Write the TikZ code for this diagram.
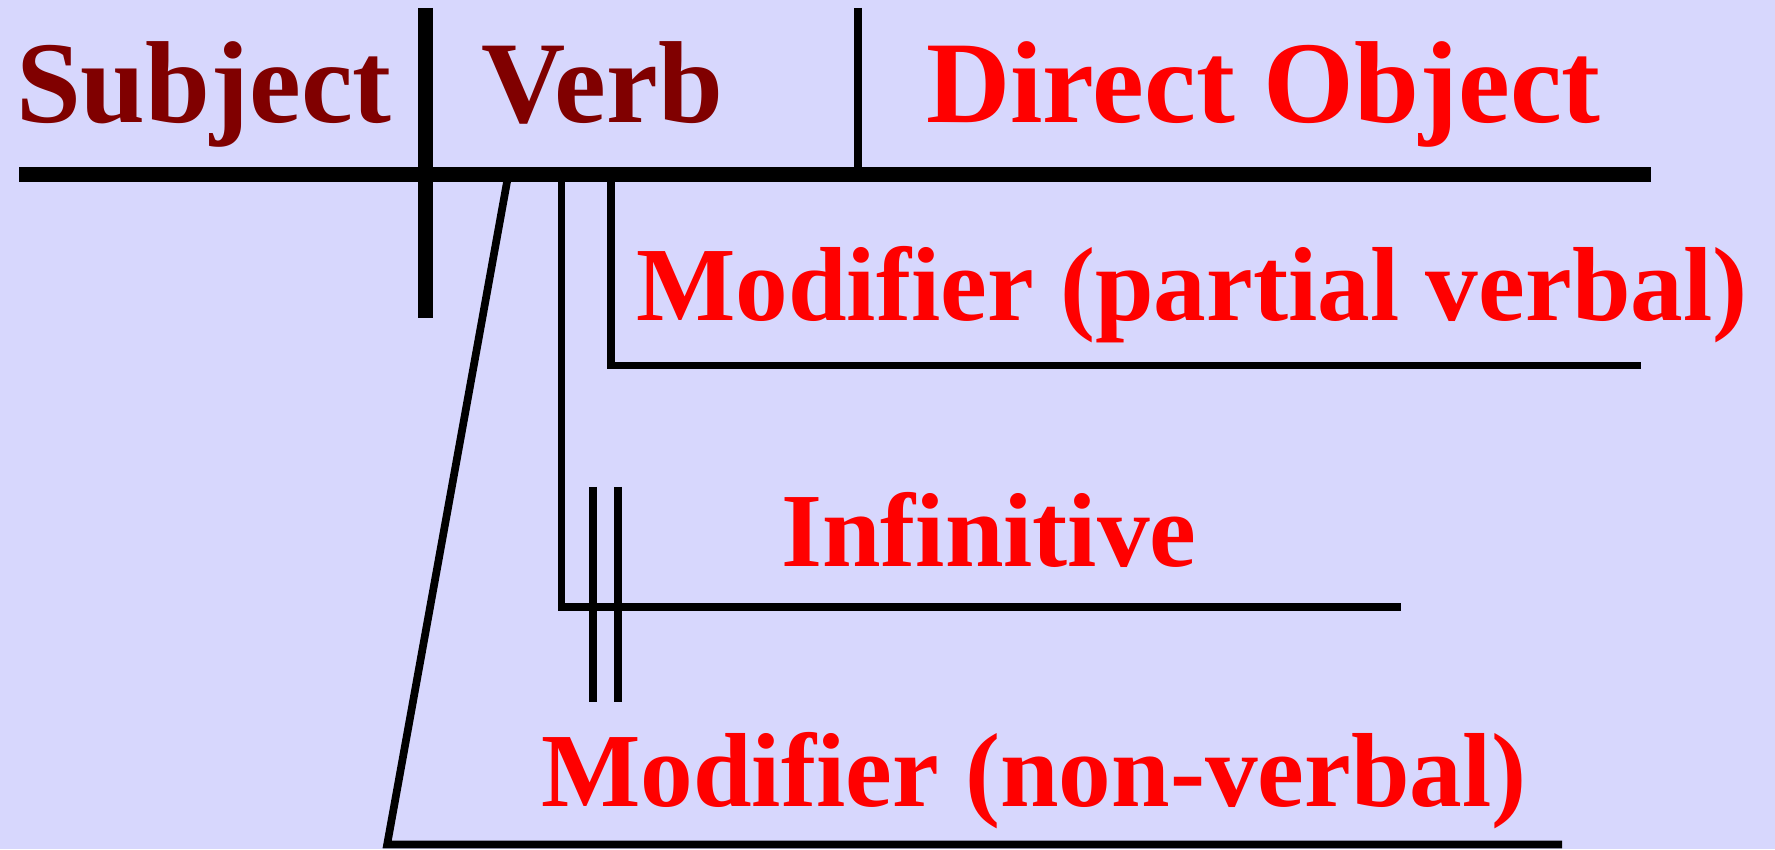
\documentclass[tikz,border=0pt]{standalone}
\usepackage{fontspec}
\setmainfont{Liberation Serif}[Ligatures=NoCommon]
\definecolor{bg}{RGB}{215,215,253}
\definecolor{darkred}{RGB}{128,0,0}
\definecolor{brightred}{RGB}{255,0,0}
\begin{document}
\begin{tikzpicture}[x=1pt,y=-1pt,
  lbl/.style={anchor=base west,inner sep=0pt,font=\bfseries},
  big/.style={lbl,font=\fontsize{103}{110}\selectfont\bfseries},
  mid/.style={lbl,font=\fontsize{93}{100}\selectfont\bfseries},
  thick line/.style={line width=13.5pt},
  med line/.style={line width=7pt},
  thin line/.style={line width=6.8pt}]
\fill[bg] (0,0) rectangle (1568,750);
\useasboundingbox (0,0) rectangle (1568,750);
% coordinates
\coordinate (base L) at (17,154);
\coordinate (base R) at (1458,154);
\coordinate (sv top) at (376,7);
\coordinate (sv bot) at (376,281);
\coordinate (vo top) at (758,7);
\coordinate (vo bot) at (758,150);
\coordinate (sl top) at (448,160);
\coordinate (sl bot) at (342,746);
\coordinate (nv end) at (1380,746);
\coordinate (inf top) at (496,160);
\coordinate (inf corner) at (496,536);
\coordinate (inf end) at (1238,536);
\coordinate (pv top) at (540,160);
\coordinate (pv corner) at (540,323);
\coordinate (pv end) at (1450,323);
\coordinate (p1 top) at (524,430);
\coordinate (p1 bot) at (524,620);
\coordinate (p2 top) at (546,430);
\coordinate (p2 bot) at (546,620);
% lines
\draw[thick line] (base L) -- (base R);
\draw[thick line] (sv top) -- (sv bot);
\draw[med line] (vo top) -- (vo bot);
\draw[thin line] (sl top) -- (sl bot) -- (nv end);
\draw[thin line] (inf top) -- (inf corner) -- (inf end);
\draw[thin line] (pv top) -- (pv corner) -- (pv end);
\draw[thin line] (p1 top) -- (p1 bot);
\draw[thin line] (p2 top) -- (p2 bot);
% labels
\node[big,text=darkred] (subj) at (14,108) {Subject};
\node[big,text=darkred] (verb) at (425,108) {Verb};
\node[big,text=brightred] (dobj) at (818,108) {Direct Object};
\node[mid,text=brightred] (pvmod) at (562,283) {Modifier (partial verbal)};
\node[mid,text=brightred] (infl) at (690,500) {Infinitive};
\node[mid,text=brightred] (nvmod) at (478,712) {Modifier (non-verbal)};
\end{tikzpicture}
\end{document}
